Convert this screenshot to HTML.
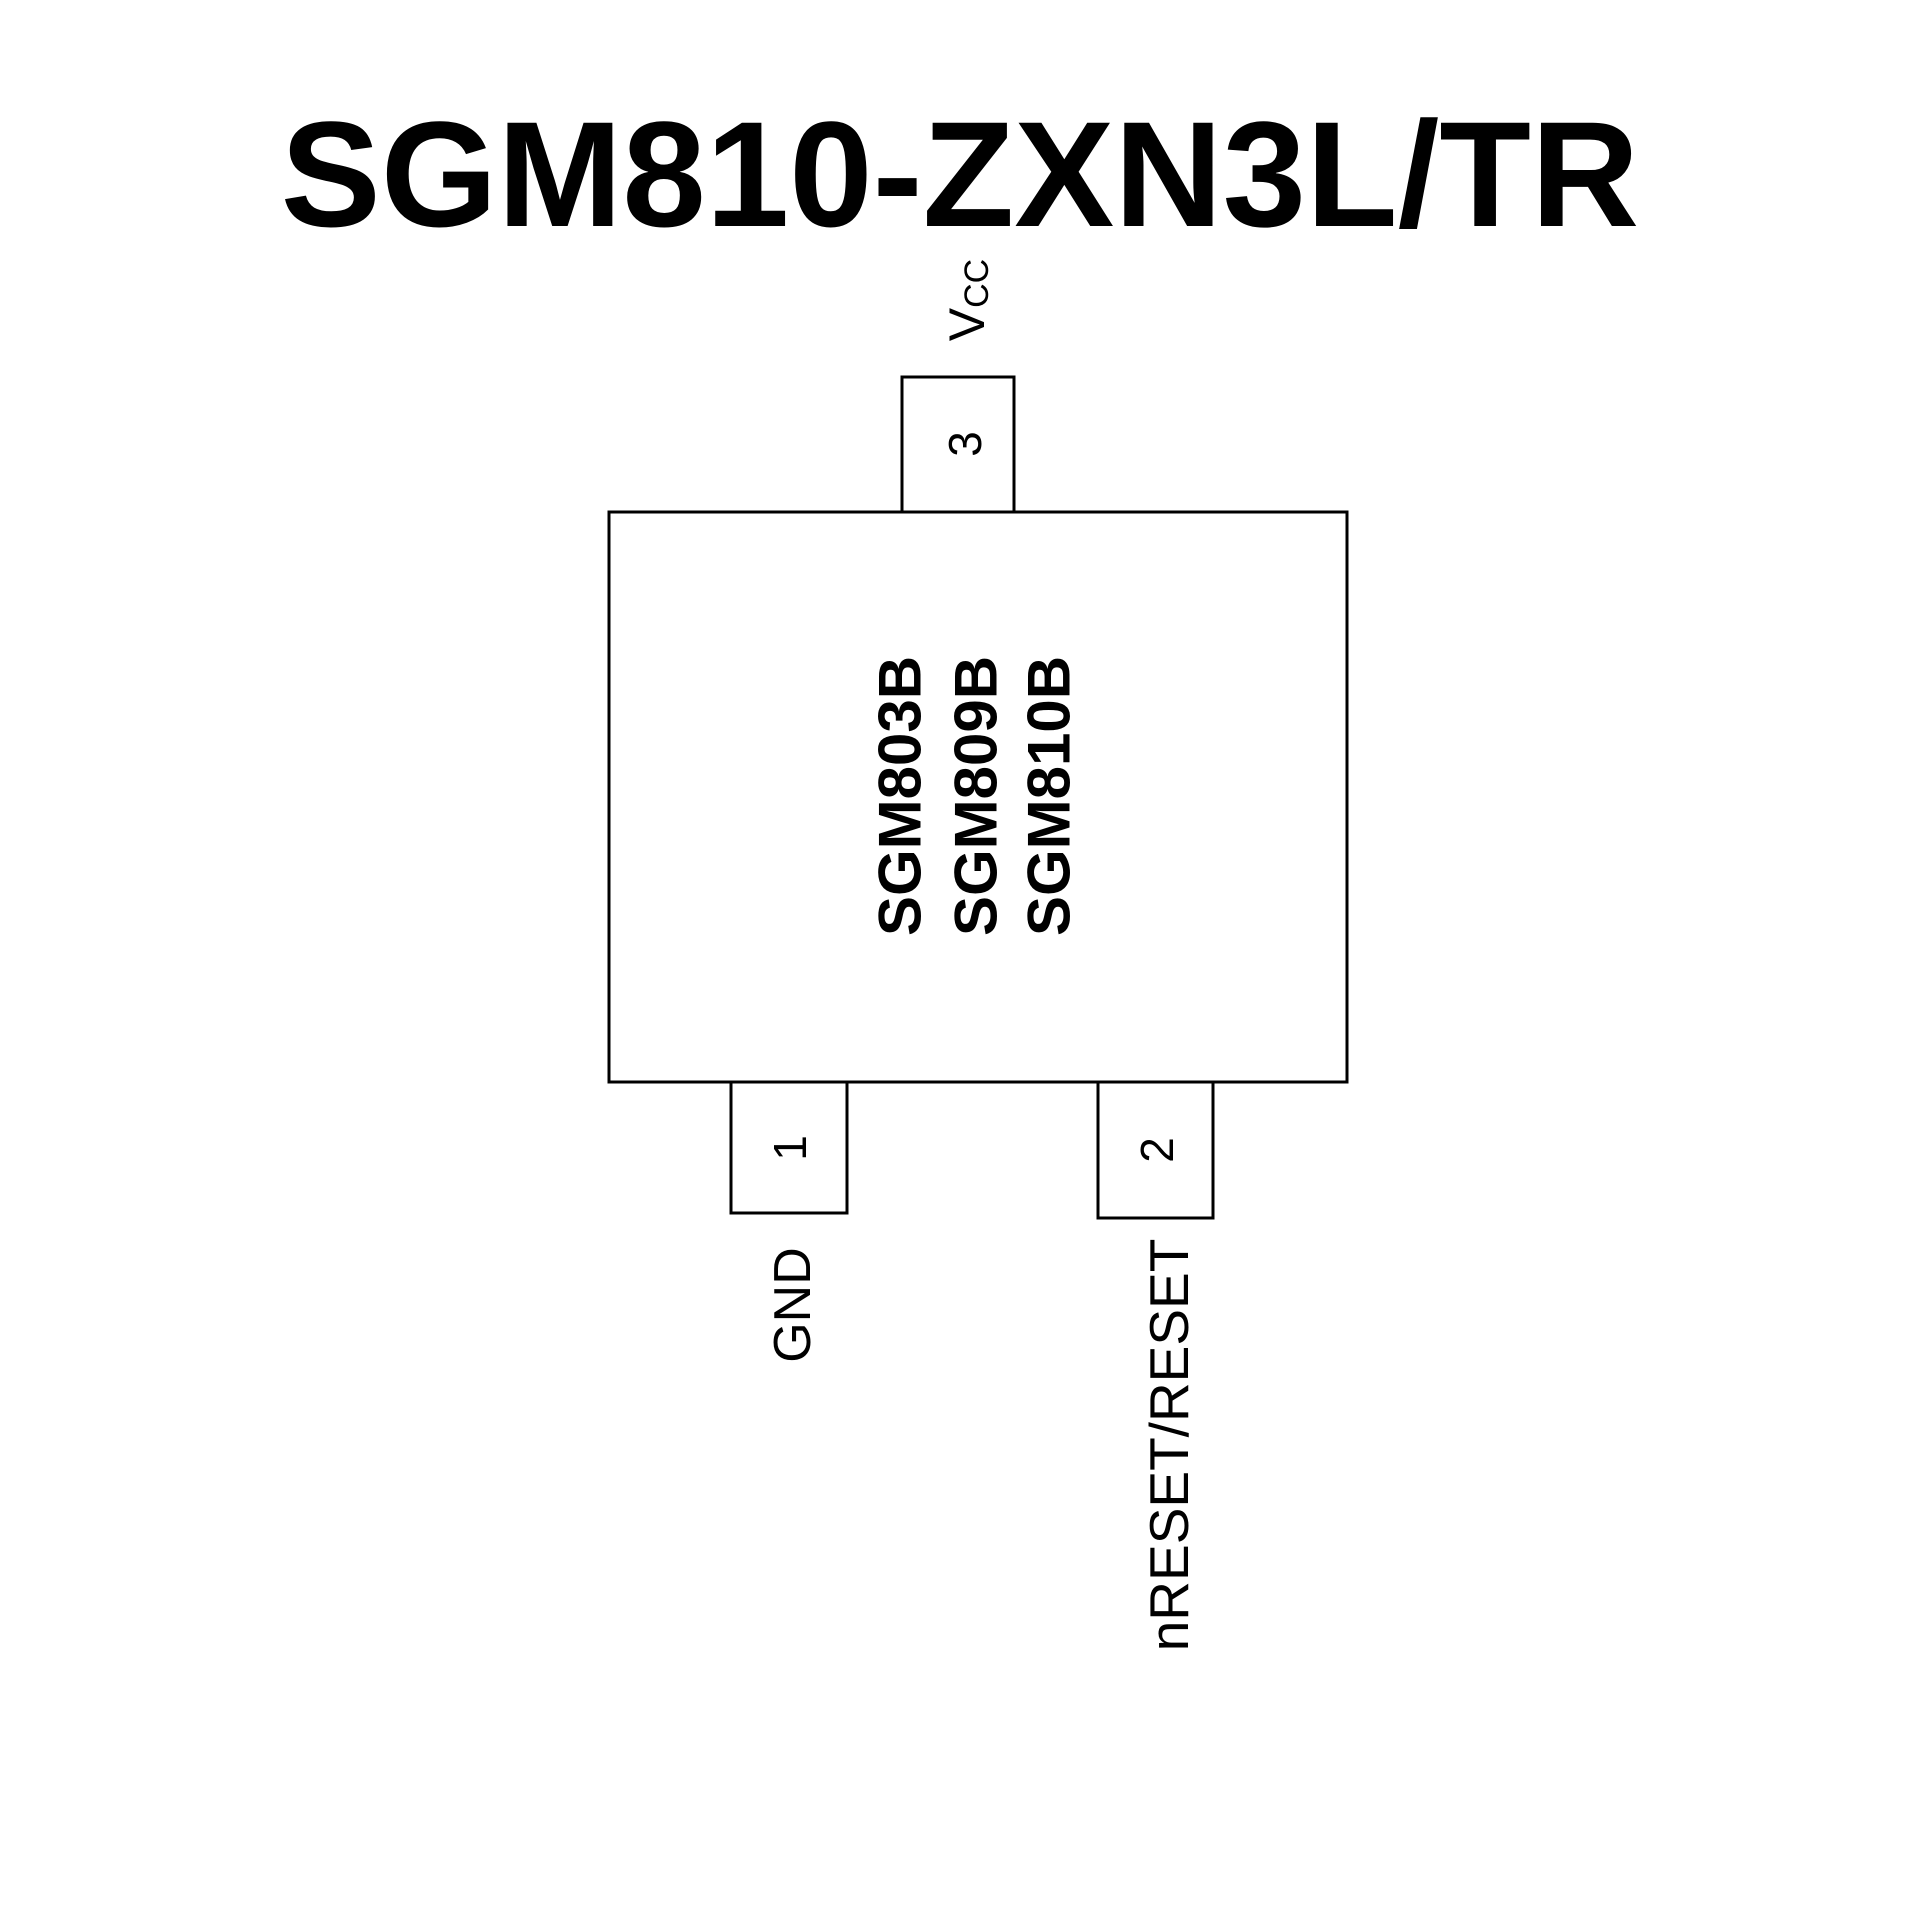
<!DOCTYPE html>
<html><head><meta charset="utf-8"><style>html,body{margin:0;padding:0;background:#fff}svg{display:block}</style></head>
<body>
<svg width="1920" height="1920" viewBox="0 0 1920 1920" xmlns="http://www.w3.org/2000/svg">
<rect width="1920" height="1920" fill="#fff"/>
<text x="960" y="226" text-anchor="middle" font-family="Liberation Sans, sans-serif" font-weight="bold" font-size="150" fill="#000">SGM810-ZXN3L/TR</text>
<g fill="#fff" stroke="#000" stroke-width="3">
<rect x="609" y="512" width="738" height="570"/>
<rect x="902" y="377" width="112" height="135"/>
<rect x="731" y="1082" width="116" height="131"/>
<rect x="1098" y="1082" width="115" height="136"/>
</g>
<g font-family="Liberation Sans, sans-serif" fill="#000" text-anchor="middle">
<text transform="translate(967,300) rotate(-90)" dominant-baseline="central" font-size="50">V<tspan font-size="34" dy="10">CC</tspan></text>
<text transform="translate(965,444) rotate(-90)" dominant-baseline="central" font-size="46">3</text>
<text transform="translate(790,1148) rotate(-90)" dominant-baseline="central" font-size="46">1</text>
<text transform="translate(1157,1150) rotate(-90)" dominant-baseline="central" font-size="46">2</text>
<text transform="translate(793,1305) rotate(-90)" dominant-baseline="central" font-size="52">GND</text>
<text transform="translate(1169,1445) rotate(-90)" dominant-baseline="central" font-size="55">nRESET/RESET</text>
<g font-weight="bold" font-size="60">
<text transform="translate(900,796) rotate(-90)" dominant-baseline="central">SGM803B</text>
<text transform="translate(976,796) rotate(-90)" dominant-baseline="central">SGM809B</text>
<text transform="translate(1049,796) rotate(-90)" dominant-baseline="central">SGM810B</text>
</g>
</g>
</svg>
</body></html>
